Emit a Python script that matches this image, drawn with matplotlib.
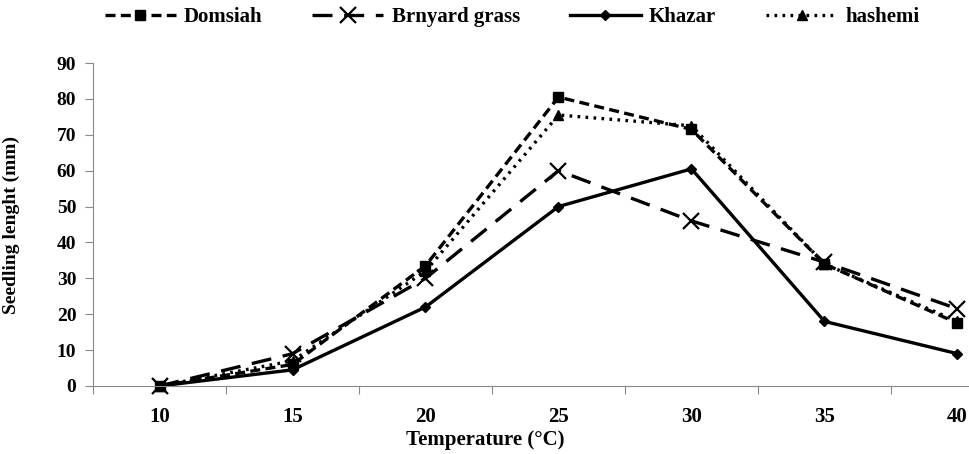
import matplotlib
matplotlib.use("Agg")
import matplotlib.pyplot as plt

temps = ["10", "15", "20", "25", "30", "35", "40"]
domsiah = [0, 6, 33.5, 80.5, 71.5, 34, 17.5]
brnyard = [0, 9, 30, 60, 46, 34.5, 21.5]
khazar = [0, 4.5, 22, 50, 60.5, 18, 9]
hashemi = [0, 7, 32, 75.5, 72.5, 34, 18]

plt.rcParams["font.family"] = ["Liberation Serif", "DejaVu Serif"]
plt.rcParams["font.weight"] = "bold"

fig = plt.figure(figsize=(9.7, 4.54), dpi=100)
ax = fig.add_axes([93 / 970, 1 - 386 / 454, (1024 - 93) / 970, (386 - 63) / 454])

x = list(range(len(temps)))
lw = 2.4
ax.plot(x, domsiah, color="black", lw=lw, ls=(0, (3, 1.6)), marker="s", ms=7,
        label="Domsiah", clip_on=False)
ax.plot(x, brnyard, color="black", lw=lw, ls=(0, (6, 3.5)), marker="x", ms=11, mew=1.6,
        label="Brnyard grass", clip_on=False)
ax.plot(x, khazar, color="black", lw=lw, ls="-", marker="D", ms=5.5,
        label="Khazar", clip_on=False)
ax.plot(x, hashemi, color="black", lw=lw, ls=(0, (0.8, 1.6)), marker="^", ms=7,
        label="hashemi", clip_on=False)

ax.set_xlim(-0.5, 6.5)
ax.set_ylim(0, 90)
ax.set_yticks(range(0, 91, 10))
# category boundaries get the tick marks, labels sit in the middle
ax.set_xticks([i + 0.5 for i in range(-1, 7)])
ax.set_xticklabels([])
ax.set_xticks(x, minor=True)
ax.set_xticklabels(temps, minor=True)
ax.tick_params(axis="x", which="minor", length=0, pad=15, labelsize=15)
ax.tick_params(axis="x", which="major", length=6, color="#888888", direction="out")
ax.tick_params(axis="y", length=6, color="#888888", labelsize=14, pad=6)
for lab in ax.get_xticklabels(minor=True) + ax.get_yticklabels():
    lab.set_fontweight("bold")

for s in ["top", "right"]:
    ax.spines[s].set_visible(False)
ax.spines["left"].set_color("#888888")
ax.spines["bottom"].set_color("#888888")

ax.set_xlabel("Temperature (°C)", fontsize=15, fontweight="bold")
ax.xaxis.set_label_coords((485 - 93) / (1024 - 93), -0.135)
ax.set_ylabel("Seedling lenght (mm)", fontsize=14, fontweight="bold")
ax.yaxis.set_label_coords(-0.078, 0.5)

fig.legend(loc="upper center", bbox_to_anchor=(0.528, 1.025), ncol=4, frameon=False,
           prop={"size": 15, "weight": "bold"}, handlelength=3.4, columnspacing=2.4,
           handletextpad=0.4)

fig.savefig("out.png", dpi=100)
